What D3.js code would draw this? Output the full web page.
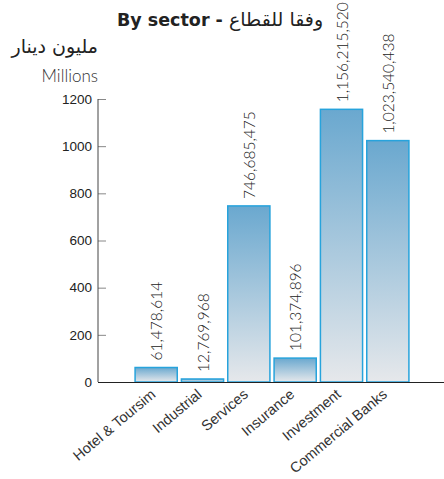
<!DOCTYPE html>
<meta charset="utf-8">
<style>
body { margin: 0; background: #fff; }
svg { display: block; }
.axis--y path { display: none; }
.axis--y line { stroke: #888; }
.axis--y text { font-family: "Liberation Sans", Arial, sans-serif; font-size: 13.5px; fill: #222; }
.axis--x path { stroke: #222; }
.axis--x line { display: none; }
.axis--x text { font-family: "Liberation Sans", Arial, sans-serif; font-size: 14.5px; fill: #333; }
.val { font-family: Lato, sans-serif; font-weight: 300; font-size: 15.5px; fill: #222; }
</style>
<svg id="chart"></svg>
<script src="https://d3js.org/d3.v7.min.js"></script>
<script>

let sectors = ["Hotel & Toursim", "Industrial", "Services", "Insurance", "Investment", "Commercial Banks"];
let values = [61.478614, 12.769968, 746.685475, 101.374896, 1156.215520, 1023.540438];
let valueLabels = ["61,478,614", "12,769,968", "746,685,475", "101,374,896", "1,156,215,520", "1,023,540,438"];
let yTicks = [0, 200, 400, 600, 800, 1000, 1200];

let svg = d3.select("#chart")
  .attr("width", 444)
  .attr("height", 479);

let x = d3.scaleBand()
  .domain(sectors)
  .range([133, 411])
  .paddingInner(0.09)
  .paddingOuter(0.045);

let y = d3.scaleLinear()
  .domain([0, 1200])
  .range([382, 99]);

// gradient for bars
let defs = svg.append("defs");
let grad = defs.append("linearGradient")
  .attr("id", "barGrad")
  .attr("x1", 0).attr("y1", 0).attr("x2", 0).attr("y2", 1);
grad.append("stop").attr("offset", "0%").attr("stop-color", "#6aa8cf");
grad.append("stop").attr("offset", "100%").attr("stop-color", "#e6e8eb");

// title
let title = svg.append("text")
  .attr("x", 117)
  .attr("y", 26)
  .style("font-family", "'DejaVu Sans', sans-serif")
  .style("font-size", "17.5px")
  .style("fill", "#222");
title.append("tspan").style("font-weight", "bold").text("By sector - ");
title.append("tspan").style("font-weight", "normal").style("font-size", "19px").text("وفقا للقطاع");

svg.append("text")
  .attr("x", 98)
  .attr("y", 53)
  .attr("text-anchor", "end")
  .style("font-family", "'DejaVu Sans', sans-serif")
  .style("font-size", "19px")
  .style("fill", "#222")
  .text("مليون دينار");

svg.append("text")
  .attr("x", 98)
  .attr("y", 82)
  .attr("text-anchor", "end")
  .style("font-family", "Lato, sans-serif")
  .style("font-weight", 300)
  .style("font-size", "17px")
  .style("fill", "#333")
  .text("Millions");

// y axis
let yAxis = svg.append("g")
  .attr("class", "axis axis--y")
  .attr("transform", "translate(98,0)")
  .call(d3.axisRight(y).tickValues(yTicks).tickSize(8).tickFormat(d3.format("d")));
yAxis.selectAll("text").attr("x", -6).attr("text-anchor", "end");
yAxis.append("line")
  .attr("x1", 0).attr("x2", 0)
  .attr("y1", y(1200)).attr("y2", y(0))
  .style("stroke", "#444");

// bars
svg.selectAll(".bar")
  .data(sectors)
  .enter()
  .append("rect")
  .attr("class", "bar")
  .attr("x", d => x(d))
  .attr("y", (d, i) => y(values[i]))
  .attr("width", x.bandwidth())
  .attr("height", (d, i) => y(0) - y(values[i]))
  .attr("fill", "url(#barGrad)")
  .attr("stroke", "#27a3dc")
  .attr("stroke-width", 1.5);

// value labels
svg.selectAll(".val")
  .data(sectors)
  .enter()
  .append("text")
  .attr("class", "val")
  .attr("transform", (d, i) => "translate(" + (x(d) + x.bandwidth() / 2 + 6) + "," + (y(values[i]) - 7) + ") rotate(-90)")
  .text((d, i) => valueLabels[i]);

// x axis
let xAxis = svg.append("g")
  .attr("class", "axis axis--x")
  .attr("transform", "translate(0,382)")
  .call(d3.axisBottom(x).tickSize(0).tickSizeOuter(0));
xAxis.select("path").attr("d", "M98,0.5H444");
xAxis.selectAll("text")
  .attr("text-anchor", "end")
  .attr("transform", "translate(-3,10) rotate(-40)")
  .attr("dy", "0.35em")
  .attr("y", 0);

</script>
